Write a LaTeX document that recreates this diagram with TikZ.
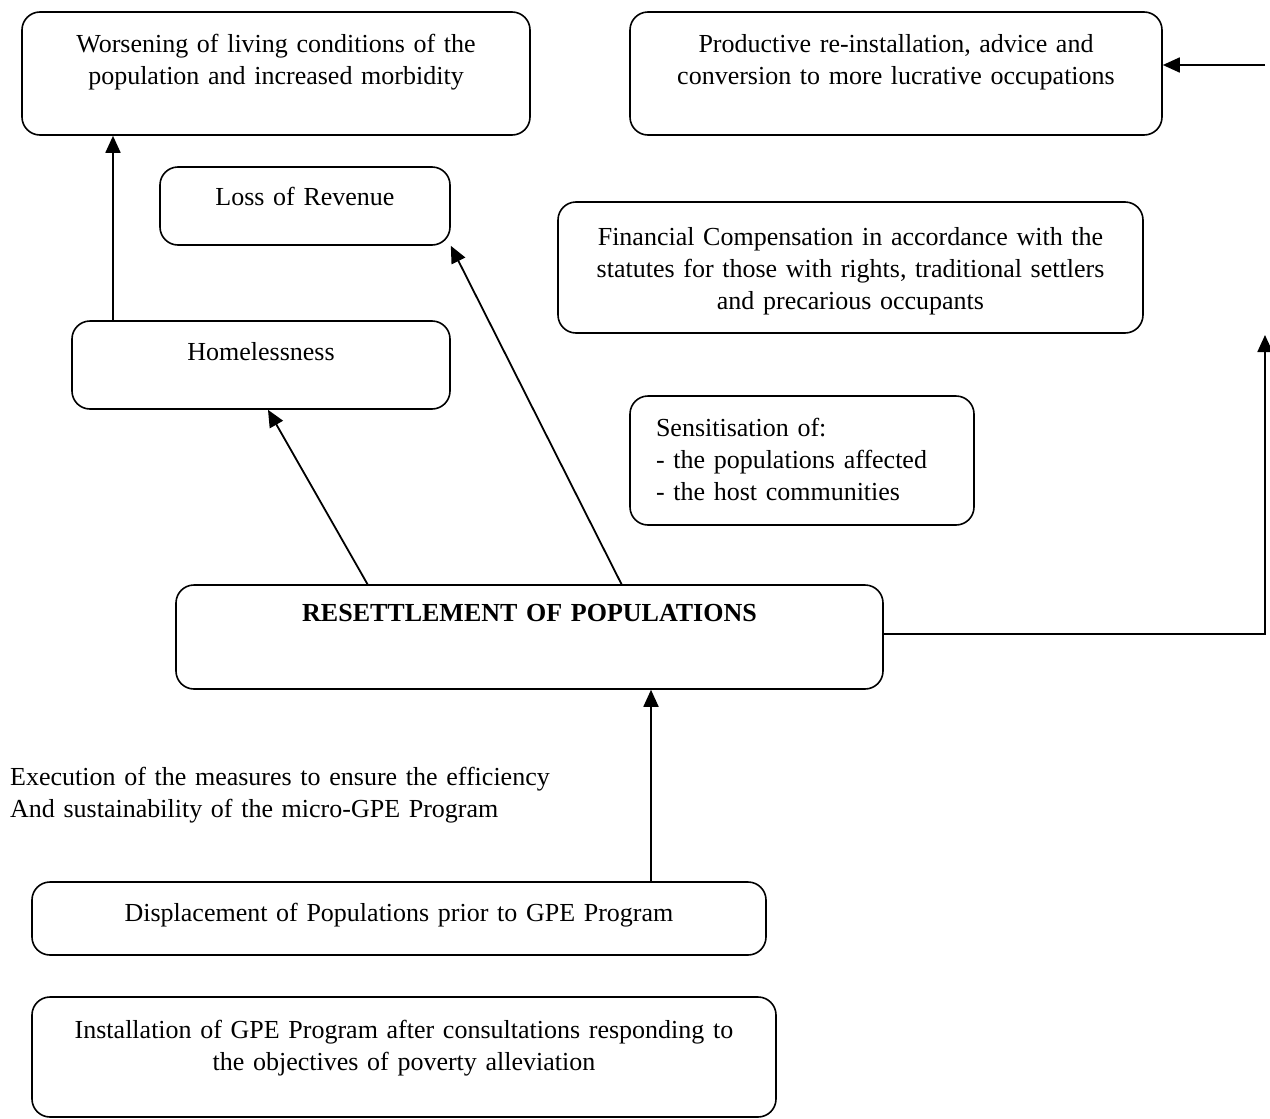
\documentclass[tikz,border=0pt]{standalone}
\usepackage{fontspec}
\setmainfont{Liberation Serif}
\usetikzlibrary{arrows.meta}
\begin{document}
\begin{tikzpicture}[x=1pt,y=-1pt,
    font=\fontsize{26}{32}\selectfont,
    box/.style={draw, line width=1.6pt, rounded corners=18pt, inner sep=0pt, align=center},
    arr/.style={line width=1.8pt, -{Triangle[length=17pt,width=15pt]}}]
    \useasboundingbox (0,0) rectangle (1270,1119);

    \node[box, text width=508pt, text height=40pt, text depth=83pt] (worse) at (276,73.5)
        {Worsening of living conditions of the\\population and increased morbidity};
    \node[box, text width=532pt, text height=40pt, text depth=83pt] (prod) at (896,73.5)
        {Productive re-installation, advice and\\conversion to more lucrative occupations};
    \node[box, text width=290pt, text height=38pt, text depth=40pt] (loss) at (305,206) {Loss of Revenue};
    \node[box, text width=585pt, text height=43pt, text depth=88pt] (comp) at (850.5,267.5)
        {Financial Compensation in accordance with the\\statutes for those with rights, traditional settlers\\and precarious occupants};
    \node[box, text width=378pt, text height=39pt, text depth=49pt] (home) at (261,365) {Homelessness};
    \node[box, align=left, inner xsep=26pt, text width=292pt, text height=40pt, text depth=89pt] (sens) at (802,460.5)
        {Sensitisation of:\\- the populations affected\\- the host communities};
    \node[box, text width=707pt, text height=36pt, text depth=68pt] (resettle) at (529.5,637)
        {\textbf{RESETTLEMENT OF POPULATIONS}};
    \node[anchor=north west, inner sep=0pt, text width=600pt, text height=20pt, align=left] (exec) at (10,765)
        {Execution of the measures to ensure the efficiency\\And sustainability of the micro-GPE Program};
    \node[box, text width=734pt, text height=39pt, text depth=34pt] (displace) at (399,918.5)
        {Displacement of Populations prior to GPE Program};
    \node[box, text width=744pt, text height=41pt, text depth=79pt] (install) at (404,1057)
        {Installation of GPE Program after consultations responding to\\the objectives of poverty alleviation};

    \coordinate (upend) at (1265,335);
    \coordinate (inend) at (1265,65);

    \draw[arr] ([xshift=-148pt]home.north) -- ([xshift=-148pt]home.north |- worse.south);
    \draw[arr] ([xshift=-162pt]resettle.north) -- ([xshift=7pt]home.south);
    \draw[arr] ([xshift=92pt]resettle.north) -- (loss.south east);
    \draw[arr] ([xshift=252pt]displace.north) -- ([xshift=252pt]displace.north |- resettle.south);
    \draw[arr] ([yshift=3pt]resettle.east) -| (upend);
    \draw[arr] (inend) -- (inend -| prod.east);
\end{tikzpicture}
\end{document}
